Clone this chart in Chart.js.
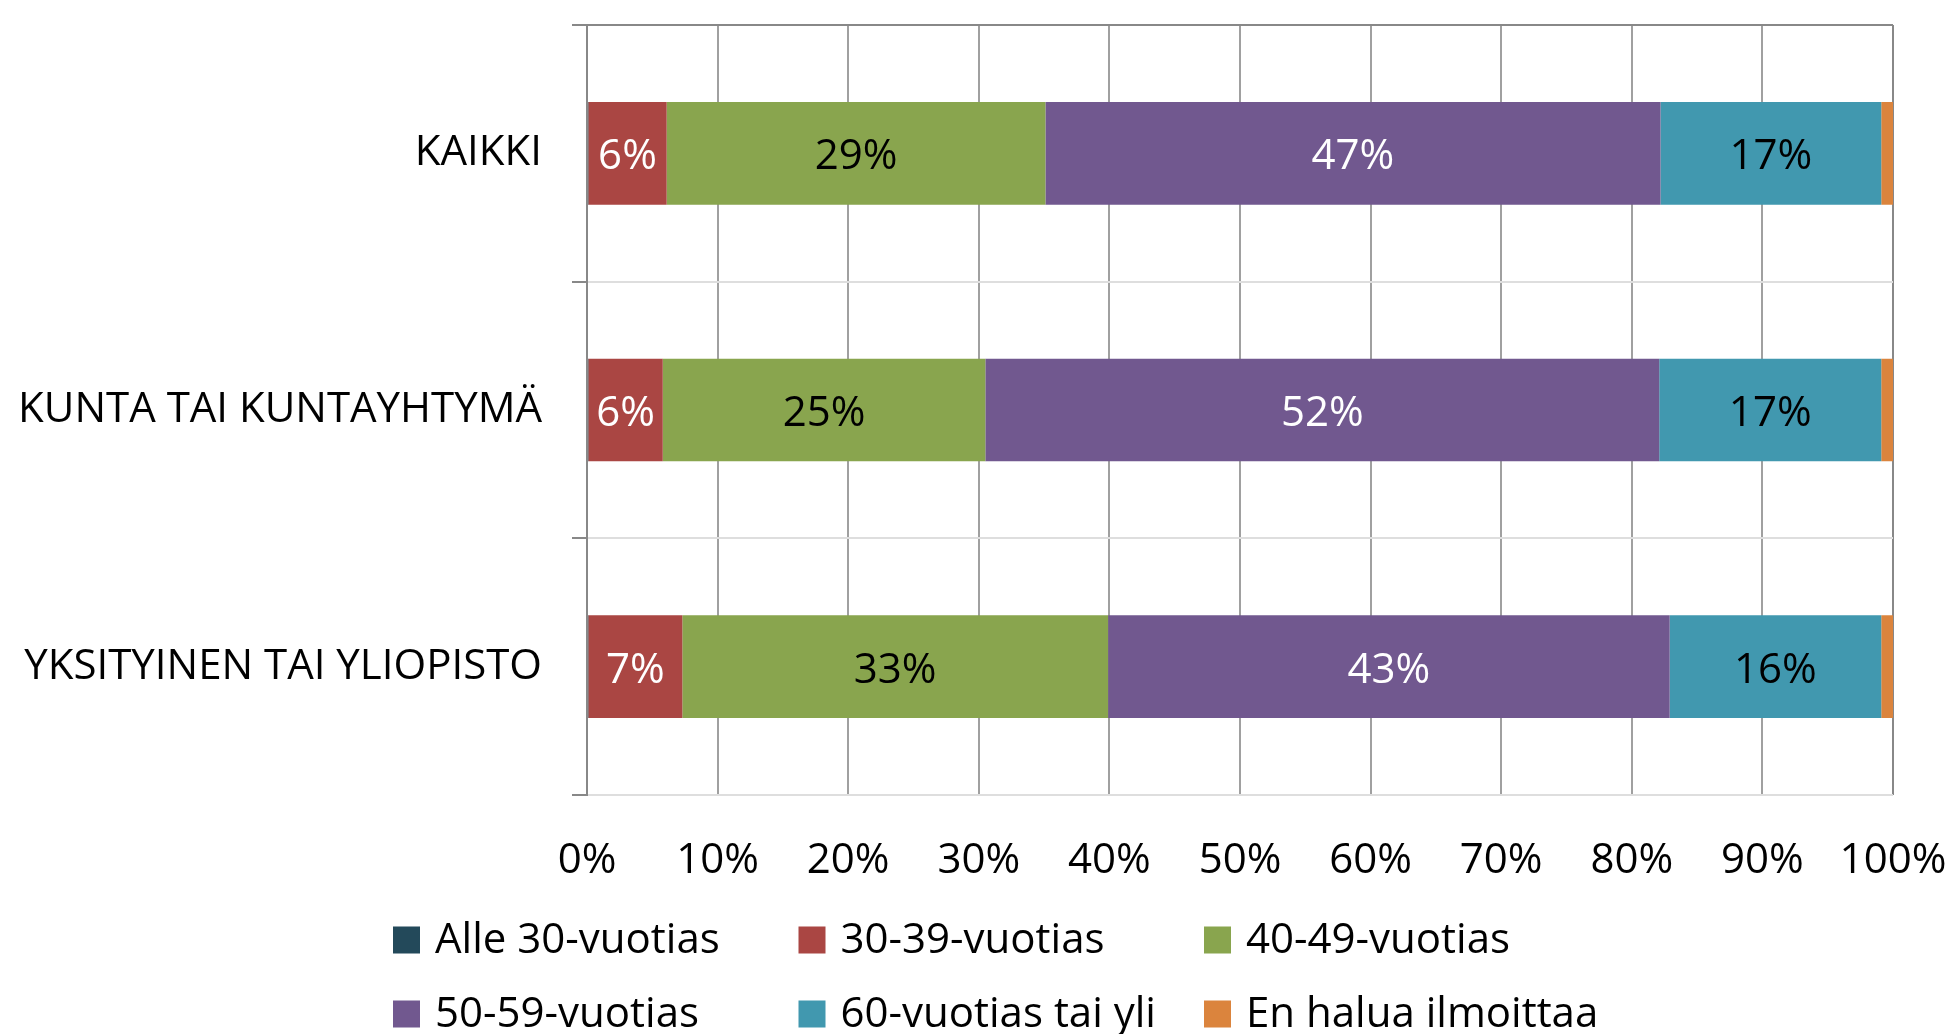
<!DOCTYPE html>
<html>
<head>
<meta charset="utf-8">
<script src="https://cdn.jsdelivr.net/npm/chart.js@4/dist/chart.umd.min.js"></script>
<style>
  html, body { margin: 0; padding: 0; background: #fff; }
  canvas { display: block; }
</style>
</head>
<body>
<canvas id="myChart" width="1953" height="1034"></canvas>
<script>
// Data
const categories = ['KAIKKI', 'KUNTA TAI KUNTAYHTYMÄ', 'YKSITYINEN TAI YLIOPISTO'];
const seriesNames = ['Alle 30-vuotias', '30-39-vuotias', '40-49-vuotias', '50-59-vuotias', '60-vuotias tai yli', 'En halua ilmoittaa'];
const alle30 = [0.1, 0.1, 0.1];
const v30_39 = [6.0, 5.7, 7.2];
const v40_49 = [29.0, 24.7, 32.6];
const v50_59 = [47.1, 51.6, 43.0];
const v60plus = [16.9, 17.0, 16.2];
const enHalua = [0.9, 0.9, 0.9];
const xTicks = [0, 10, 20, 30, 40, 50, 60, 70, 80, 90, 100];

const colors = ['#23495a', '#aa4643', '#89a54e', '#71588f', '#4198af', '#db843d'];
// label colour per series (null = no label)
const labelColors = [null, '#ffffff', '#000000', '#ffffff', '#000000', null];
const FONT = '"Open Sans", "Noto Sans", sans-serif';

const ctx = document.getElementById('myChart').getContext('2d');

// draw the value labels inside the bars
const barLabels = {
    id: 'barLabels',
    afterDatasetsDraw(chart) {
        const c = chart.ctx;
        c.save();
        c.font = '42px ' + FONT;
        c.textAlign = 'center';
        c.textBaseline = 'middle';
        chart.data.datasets.forEach((ds, i) => {
            if (!labelColors[i]) return;
            const meta = chart.getDatasetMeta(i);
            meta.data.forEach((bar, j) => {
                const p = bar.getProps(['x', 'base', 'y'], true);
                c.fillStyle = labelColors[i];
                c.fillText(Math.round(ds.data[j]) + '%', (p.x + p.base) / 2, p.y + 4);
            });
        });
        c.restore();
    }
};

// legend in 3 columns, 2 rows
const gridLegend = {
    id: 'gridLegend',
    afterDraw(chart) {
        const c = chart.ctx;
        c.save();
        c.font = '42px ' + FONT;
        c.textAlign = 'left';
        c.textBaseline = 'middle';
        chart.data.datasets.forEach((ds, i) => {
            const col = i % 3;
            const row = Math.floor(i / 3);
            const x = 393 + col * 405.5;
            const y = 940 + row * 74;
            c.fillStyle = ds.backgroundColor;
            c.fillRect(x, y - 13.5, 27, 27);
            c.fillStyle = '#000';
            c.fillText(ds.label, x + 42, y + 1);
        });
        c.restore();
    }
};

const allSeries = [alle30, v30_39, v40_49, v50_59, v60plus, enHalua];

const chart = new Chart(ctx, {
    type: 'bar',
    data: {
        labels: categories,
        datasets: allSeries.map((d, i) => ({
            label: seriesNames[i],
            data: d,
            backgroundColor: colors[i],
            borderWidth: 0,
            barPercentage: 0.4,
            categoryPercentage: 1
        }))
    },
    options: {
        indexAxis: 'y',
        responsive: false,
        animation: false,
        devicePixelRatio: 1,
        layout: { padding: { top: 25, right: 60, bottom: 139, left: 0 } },
        plugins: {
            legend: { display: false },
            tooltip: { enabled: false }
        },
        scales: {
            x: {
                stacked: true,
                min: 0,
                max: 100,
                afterBuildTicks: (scale) => { scale.ticks = xTicks.map(v => ({ value: v })); },
                afterFit: (scale) => {
                    scale.height = 100;
                    scale.paddingLeft = 0;
                    scale.paddingRight = 0;
                },
                grid: {
                    drawTicks: false,
                    lineWidth: 2,
                    color: (c) => c.tick && c.tick.value === 100 ? '#888888' : '#a0a0a0'
                },
                border: { display: false },
                ticks: {
                    padding: 41,
                    color: '#000',
                    font: { size: 42, family: FONT },
                    callback: (v) => v + '%'
                }
            },
            y: {
                stacked: true,
                afterFit: (scale) => {
                    scale.width = 587;
                    scale.paddingTop = 0;
                    scale.paddingBottom = 0;
                },
                grid: {
                    offset: true,
                    lineWidth: 2,
                    tickLength: 15,
                    tickColor: '#888888',
                    color: (c) => c.index === 0 ? '#888888' : '#dedede'
                },
                border: { display: true, color: '#888888', width: 2 },
                ticks: {
                    padding: 30,
                    color: '#000',
                    font: { size: 42, family: FONT }
                }
            }
        }
    },
    plugins: [barLabels, gridLegend]
});
</script>
</body>
</html>
